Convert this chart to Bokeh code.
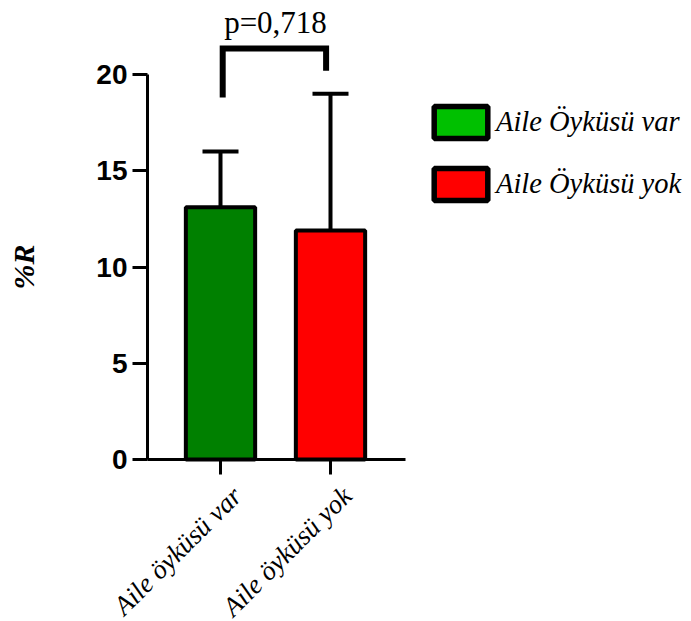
from math import pi
from bokeh.plotting import figure
from bokeh.models import (Range1d, FixedTicker, ColumnDataSource, Whisker, TeeHead,
                          Legend, LegendItem, LinearAxis)
from bokeh.core.properties import value
from bokeh.embed import file_html
from bokeh.resources import INLINE

# ---- data ----
categories = ["Aile öyküsü var", "Aile öyküsü yok"]
legend_labels = ["Aile Öyküsü var", "Aile Öyküsü yok"]
bar_values = [13.1, 11.9]
err_upper = [16.0, 19.0]
err_lower = [8.1, 9.8]
y_ticks = [0, 5, 10, 15, 20]
y_label = "%R"
p_label = "p=0,718"
bracket_x = [0.02, 0.02, 0.96, 0.96]
bracket_y = [18.8, 21.35, 21.35, 20.2]
p_label_x = 0.5
p_label_y = 22.7

bar_colors = ["#008000", "#ff0000"]
legend_colors = ["#00c000", "#ff0000"]

# ---- layout constants (pixels) ----
W, H = 691, 621
axis_x_px = 147        # page x of the value axis
axis_y_px = 459        # page y of the value 0
cat0_px = 220          # page x of the first category
px_per_y = 19.25
px_per_x = 110.0
x_start = -cat0_px / px_per_x
x_end = (W - cat0_px) / px_per_x
y_start = -(H - axis_y_px) / px_per_y
y_end = axis_y_px / px_per_y
yaxis_at = (axis_x_px - cat0_px) / px_per_x
ylabel_at = (23 - cat0_px) / px_per_x
label_shift = 0.15     # tick labels sit right of their tick in the original

xs = list(range(len(categories)))

p = figure(width=W, height=H, output_backend="svg", toolbar_location=None,
           x_range=Range1d(x_start, x_end), y_range=Range1d(y_start, y_end),
           min_border_left=0, min_border_right=0, min_border_top=0,
           min_border_bottom=0, outline_line_color=None,
           x_axis_type=None, y_axis_type=None)
p.grid.visible = False
p.background_fill_color = "white"

src = ColumnDataSource(dict(x=xs, top=bar_values, color=bar_colors,
                            upper=err_upper, lower=err_lower))
p.vbar(x="x", top="top", bottom=0, width=0.63, source=src, fill_color="color",
       line_color="black", line_width=4)

wh = Whisker(base="x", upper="upper", lower="lower", source=src, dimension="height",
             line_width=4, line_color="black",
             upper_head=TeeHead(size=36, line_width=4, line_color="black"),
             lower_head=TeeHead(size=36, line_width=4, line_color="black"))
p.add_layout(wh)

# significance bracket
p.line(bracket_x, bracket_y, line_width=6, line_color="black", line_join="miter",
       line_cap="butt")
p.text(x=[p_label_x], y=[p_label_y], text=[p_label], text_align="center",
       text_baseline="alphabetic", text_font=value("Liberation Serif"),
       text_font_size="31px", text_color="black")

# y axis (value axis)
ya = LinearAxis(ticker=FixedTicker(ticks=y_ticks), bounds=(0, 20), fixed_location=yaxis_at,
                axis_line_width=3, axis_line_color="black",
                major_tick_line_width=3, major_tick_line_color="black",
                major_tick_out=15, major_tick_in=0, minor_tick_out=0, minor_tick_in=0,
                major_label_text_color="black", major_label_text_font="Liberation Sans",
                major_label_text_font_style="bold", major_label_text_font_size="28px",
                major_label_standoff=5)
p.add_layout(ya, "left")

# y axis title, centred on the axis bounds
p.text(x=[ylabel_at], y=[10], text=[y_label], angle=pi / 2, text_align="center",
       text_baseline="middle", text_font=value("Liberation Serif"),
       text_font_style="bold italic", text_font_size="30px", text_color="black")

# x axis at value 0: line and ticks
xbounds = (yaxis_at, 1 + 75 / px_per_x)
xa = LinearAxis(ticker=FixedTicker(ticks=xs), bounds=xbounds, fixed_location=0,
                axis_line_width=3, axis_line_color="black",
                major_tick_line_width=3, major_tick_line_color="black",
                major_tick_out=15, major_tick_in=0, minor_tick_out=0, minor_tick_in=0,
                major_label_text_color=None, major_label_standoff=0)
p.add_layout(xa, "below")

# x axis category labels (placed a little right of the ticks, as in the original)
lab_ticks = [x + label_shift for x in xs]
xl = LinearAxis(ticker=FixedTicker(ticks=lab_ticks), bounds=xbounds, fixed_location=0,
                axis_line_color=None, major_tick_line_color=None,
                minor_tick_line_color=None, major_tick_out=0, major_tick_in=0,
                major_label_overrides={t: c for t, c in zip(lab_ticks, categories)},
                major_label_orientation=pi / 4,
                major_label_text_font="Liberation Serif",
                major_label_text_font_style="italic",
                major_label_text_font_size="27px",
                major_label_text_color="black",
                major_label_standoff=32)
p.add_layout(xl, "below")

# legend (hidden renderers, used only for their legend swatches)
dummies = []
for i, c in enumerate(legend_colors):
    r = p.vbar(x=[xs[i]], top=[bar_values[i]], width=0.1, fill_color=c,
               line_color="black", line_width=5.5, visible=False)
    dummies.append(r)
legend = Legend(items=[LegendItem(label=l, renderers=[r]) for l, r in zip(legend_labels, dummies)],
                location=(427, H - 204), orientation="vertical",
                glyph_width=67, glyph_height=40, spacing=22, padding=0, margin=0,
                label_standoff=2, border_line_color=None, background_fill_alpha=0,
                label_text_font="Liberation Serif", label_text_font_style="italic",
                label_text_font_size="28.5px", label_text_color="black",
                label_text_baseline="middle", label_height=40,
                inactive_fill_alpha=0)
p.add_layout(legend)

open("out.html", "w").write(file_html(p, INLINE))
